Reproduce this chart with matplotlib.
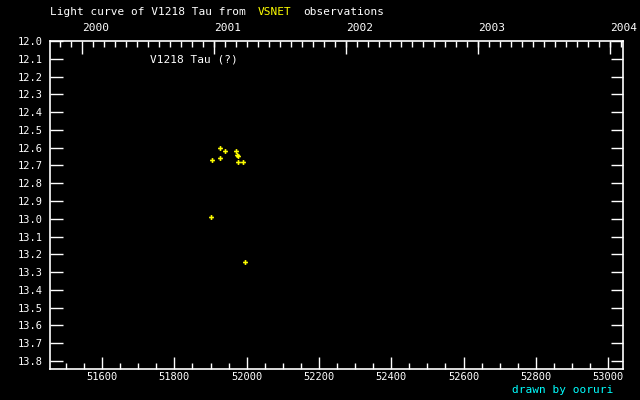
import numpy as np
import matplotlib.pyplot as plt
from matplotlib.ticker import MultipleLocator, FixedLocator

plt.rcParams['font.family'] = ['DejaVu Sans Mono']

# observations (MJD, magnitude)
mjd = [51926, 51940, 51971, 51904, 51926, 51974, 51976, 51975, 51990, 51901, 51996]
mag = [12.60, 12.617, 12.617, 12.667, 12.656, 12.64, 12.645, 12.679, 12.679, 12.988, 13.244]

years = [2000, 2001, 2002, 2003, 2004]
year_mjd = [51544, 51910, 52275, 52640, 53005]

xmin, xmax = 51456, 53041
ymin, ymax = 12.0, 13.845

fig = plt.figure(figsize=(6.4, 4.0), dpi=100, facecolor='black')
ax = fig.add_axes([50/640, 31/400, 573/640, 328/400], facecolor='black')

ax.plot(mjd, mag, linestyle='none', marker='P', color='yellow', ms=3.5, mew=0)

ax.set_xlim(xmin, xmax)
ax.set_ylim(ymax, ymin)

for s in ax.spines.values():
    s.set_color('white')
    s.set_linewidth(1.2)

ax.xaxis.set_major_locator(MultipleLocator(200))
ax.xaxis.set_minor_locator(MultipleLocator(50))
ax.tick_params(axis='both', which='both', direction='in', colors='white',
               labelsize=7.5, width=1)
ax.tick_params(axis='x', which='major', length=9, pad=2)
ax.tick_params(axis='x', which='minor', length=4)
ax.tick_params(axis='y', which='major', length=9, right=True, pad=5)
ax.tick_params(axis='y', which='minor', left=False, right=False)
yt = np.round(np.arange(12.0, 13.81, 0.1), 1)
ax.set_yticks(yt)
ax.set_yticklabels(['%.1f' % v for v in yt])

# top axis with years
top = ax.twiny()
top.set_xlim(xmin, xmax)
top.xaxis.set_major_locator(FixedLocator(year_mjd))
top.set_xticklabels([])
month_ticks = [year_mjd[0] + 30.44 * i for i in range(-3, 50)]
top.xaxis.set_minor_locator(FixedLocator(month_ticks))
top.tick_params(axis='x', which='major', direction='in', length=9, colors='white', width=1)
top.tick_params(axis='x', which='minor', direction='in', length=4, colors='white', width=1)
for s in top.spines.values():
    s.set_visible(False)
for y, m in zip(years, year_mjd):
    top.text(m, 1.025, str(y), transform=top.get_xaxis_transform(), color='white',
             fontsize=8, ha='left', va='bottom')

fig.text(50/640, 1 - 12/400, 'Light curve of V1218 Tau from', color='white',
         fontsize=8, va='center', ha='left')
fig.text(258/640, 1 - 12/400, 'VSNET', color='yellow', fontsize=8, va='center', ha='left')
fig.text(303/640, 1 - 12/400, 'observations', color='white', fontsize=8, va='center', ha='left')
ax.text(150/640, 1 - 60/400, 'V1218 Tau (?)', transform=fig.transFigure, color='white',
        fontsize=8, va='center', ha='left')
fig.text(613/640, 1 - 390/400, 'drawn by ooruri', color='cyan', fontsize=8,
         va='center', ha='right')

fig.savefig('out.png', dpi=100, facecolor='black')
